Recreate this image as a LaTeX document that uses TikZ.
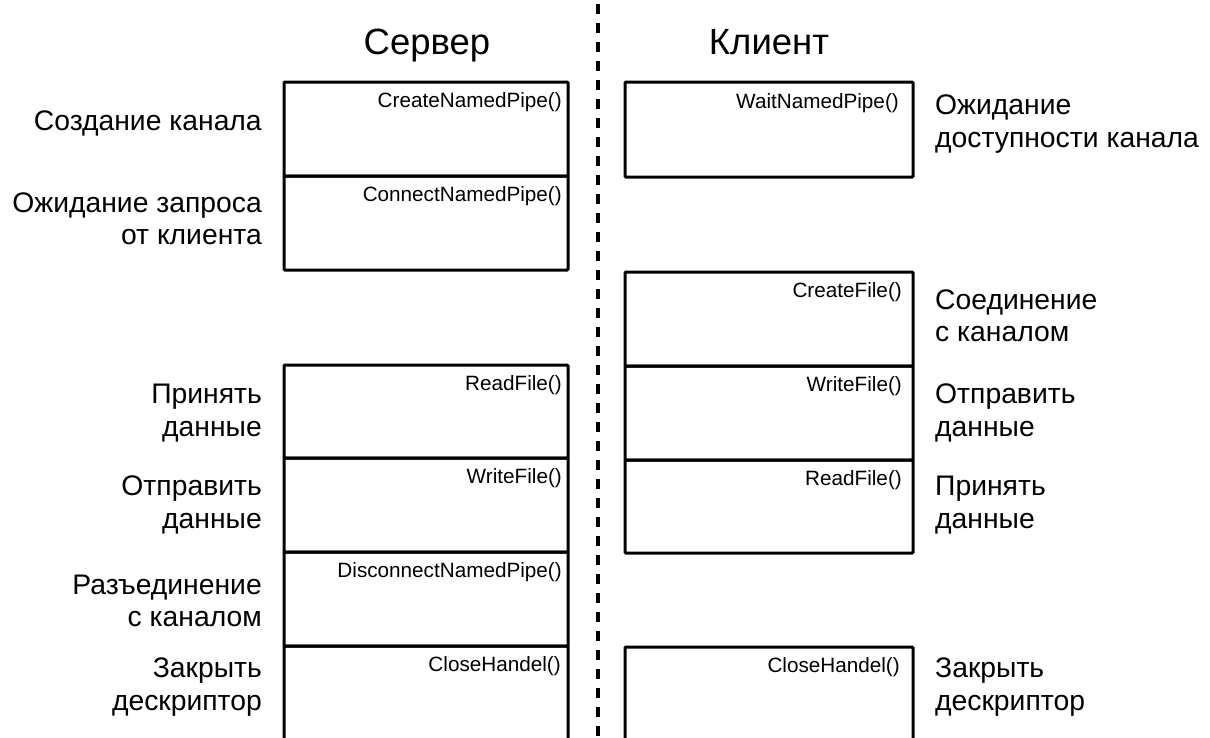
\documentclass[tikz,border=0pt]{standalone}
\usepackage{fontspec}
\setmainfont{Liberation Sans}
\begin{document}
\begin{tikzpicture}[x=1pt,y=-1pt,
  box/.style={draw,line width=3pt,rounded corners=1pt,inner sep=0pt,outer sep=0pt,anchor=north west},
  fn/.style={font=\fontsize{20.7}{24}\selectfont,inner sep=0pt,anchor=base east},
  title/.style={font=\fontsize{36.5}{40}\selectfont,inner sep=0pt,anchor=base},
  lleft/.style={font=\fontsize{28.3}{32.5}\selectfont,align=right,inner sep=0pt,anchor=east},
  lright/.style={font=\fontsize{28.3}{32.5}\selectfont,align=left,inner sep=0pt,anchor=west},
  divider/.style={line width=4pt,dash pattern=on 10pt off 9pt}]
\useasboundingbox (0,0) rectangle (1210,737);
\clip (0,0) rectangle (1210,737);

% column headings
\node[title] (srv) at (427,54) {Сервер};
\node[title] (cli) at (769,54) {Клиент};

% separator between the two sides
\coordinate (dtop) at (598,4);
\coordinate (dbot) at (598,740);
\draw[divider] (dtop) -- (dbot);

% server side
\node[box,minimum width=284pt,minimum height=94pt] (s1) at (284,82) {};
\node[box,minimum width=284pt,minimum height=94pt] (s2) at (284,176) {};
\node[box,minimum width=284pt,minimum height=93pt] (s3) at (284,365) {};
\node[box,minimum width=284pt,minimum height=94pt] (s4) at (284,458) {};
\node[box,minimum width=284pt,minimum height=94pt] (s5) at (284,552) {};
\node[box,minimum width=284pt,minimum height=120pt] (s6) at (284,646) {};

\node[fn] (s1f) at ([xshift=-6pt,yshift=-25pt]s1.north east) {CreateNamedPipe()};
\node[fn] (s2f) at ([xshift=-6pt,yshift=-25pt]s2.north east) {ConnectNamedPipe()};
\node[fn] (s3f) at ([xshift=-6pt,yshift=-25pt]s3.north east) {ReadFile()};
\node[fn] (s4f) at ([xshift=-6pt,yshift=-25pt]s4.north east) {WriteFile()};
\node[fn] (s5f) at ([xshift=-6pt,yshift=-25pt]s5.north east) {DisconnectNamedPipe()};
\node[fn] (s6f) at ([xshift=-7pt,yshift=-25pt]s6.north east) {CloseHandel()};

\node[lleft] (s1l) at (262,123) {Создание канала};
\node[lleft] (s2l) at (262,219) {Ожидание запроса\\от клиента};
\node[lleft] (s3l) at (262,413) {Принять\\данные};
\node[lleft] (s4l) at (262,505) {Отправить\\данные};
\node[lleft] (s5l) at (262,601) {Разъединение\\с каналом};
\node[lleft] (s6l) at (262,687) {Закрыть\\дескриптор};

% client side
\node[box,minimum width=288pt,minimum height=95pt] (c1) at (625,82) {};
\node[box,minimum width=288pt,minimum height=94pt] (c2) at (625,272) {};
\node[box,minimum width=288pt,minimum height=94pt] (c3) at (625,366) {};
\node[box,minimum width=288pt,minimum height=93pt] (c4) at (625,460) {};
\node[box,minimum width=288pt,minimum height=120pt] (c5) at (625,647) {};

\node[fn] (c1f) at ([xshift=-14pt,yshift=-26pt]c1.north east) {WaitNamedPipe()};
\node[fn] (c2f) at ([xshift=-11pt,yshift=-25pt]c2.north east) {CreateFile()};
\node[fn] (c3f) at ([xshift=-11pt,yshift=-25pt]c3.north east) {WriteFile()};
\node[fn] (c4f) at ([xshift=-11pt,yshift=-25pt]c4.north east) {ReadFile()};
\node[fn] (c5f) at ([xshift=-13pt,yshift=-25pt]c5.north east) {CloseHandel()};

\node[lright] (c1l) at (935,124) {Ожидание\\доступности канала};
\node[lright] (c2l) at (935,316) {Соединение\\с каналом};
\node[lright] (c3l) at (935,413) {Отправить\\данные};
\node[lright] (c4l) at (935,505) {Принять\\данные};
\node[lright] (c5l) at (935,687) {Закрыть\\дескриптор};
\end{tikzpicture}
\end{document}
